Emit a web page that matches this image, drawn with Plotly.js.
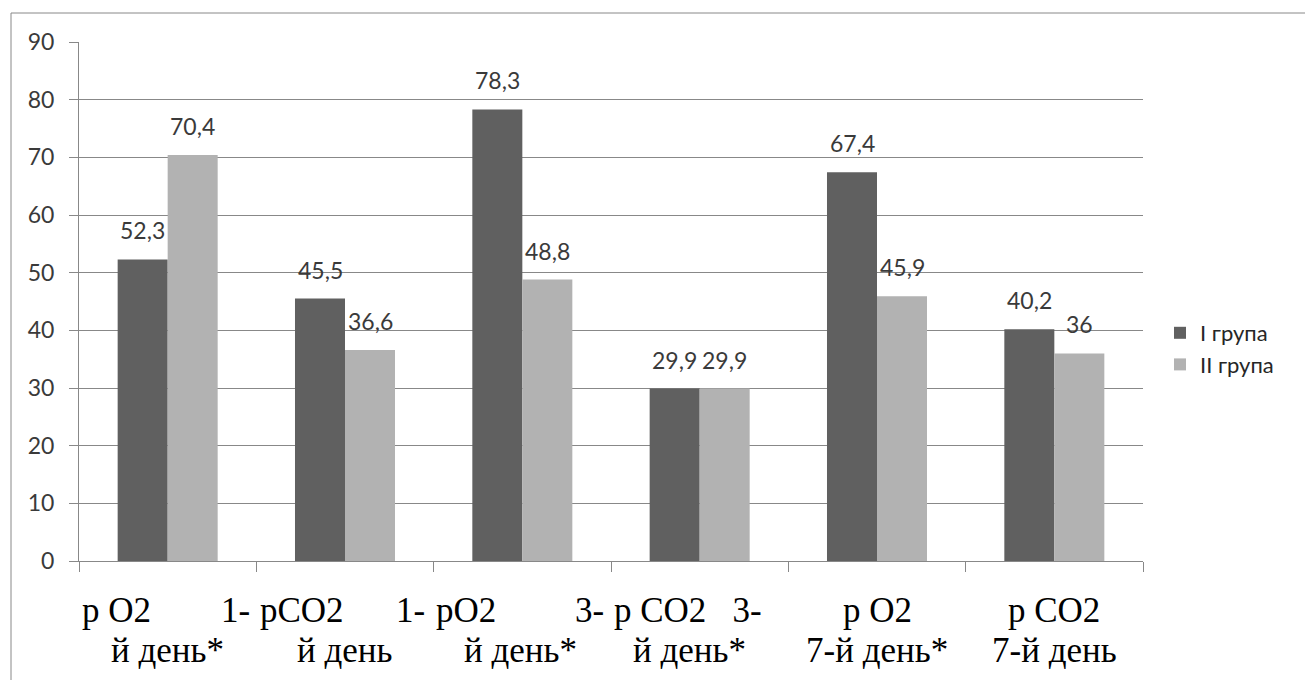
<!DOCTYPE html>
<html>
<head>
<meta charset="utf-8">
<script src="https://cdn.plot.ly/plotly-3.0.1.min.js"></script>
<style>
html, body { margin: 0; padding: 0; background: #ffffff; overflow: hidden; }
#chart { width: 1305px; height: 680px; }
</style>
</head>
<body>
<div id="chart"></div>
<script>
// ---- data ----
const categories = ["р О2 1-й день*", "рСО2 1-й день", "рО2 3-й день*", "р СО2 3-й день*", "р О2 7-й день*", "р СО2 7-й день"];
const groupI = [52.3, 45.5, 78.3, 29.9, 67.4, 40.2];
const groupII = [70.4, 36.6, 48.8, 29.9, 45.9, 36];
const seriesNames = ["I група", "II група"];
const labelLine1Start = ["р О2", "рСО2", "рО2", "р СО2", "р О2", "р СО2"];
const labelLine1End = ["1-", "1-", "3-", "3-", "", ""];
const labelLine2 = ["й день*", "й день", "й день*", "й день*", "7-й день*", "7-й день"];
const yTicks = [0, 10, 20, 30, 40, 50, 60, 70, 80, 90];

// ---- style / layout helpers ----
const NB = "\u00A0";
const gapCounts = [8, 6, 9, 3, 0, 0];
const labelShift = [-2, -3, -2, -12, 0, 0];
const line2Shift = [0, 0, -2, -10, 0, 0];
const bargap = 0.436;
const halfOffset = (1 - bargap) / 4;
const fmt = v => String(v).replace(".", ",");
const numFont = { family: "Lato, 'Open Sans', sans-serif", size: 23, color: "#3a3a3a" };
const catFont = { family: "'Liberation Serif', 'Times New Roman', serif", size: 35, color: "#000000" };

const traces = [
  { type: "bar", name: seriesNames[0], x: categories, y: groupI, marker: { color: "#606060" }, legendgroup: "g1", hoverinfo: "skip" },
  { type: "bar", name: seriesNames[1], x: categories, y: groupII, marker: { color: "#b2b2b2" }, legendgroup: "g2", hoverinfo: "skip" }
];

const annotations = [];
categories.forEach((c, i) => {
  annotations.push({ x: i - halfOffset, y: groupI[i], xref: "x", yref: "y", text: fmt(groupI[i]), showarrow: false, yanchor: "bottom", yshift: 13, font: numFont });
  annotations.push({ x: i + halfOffset, y: groupII[i], xref: "x", yref: "y", text: fmt(groupII[i]), showarrow: false, yanchor: "bottom", yshift: 13, font: numFont });
  const l1 = labelLine1End[i] ? labelLine1Start[i] + NB.repeat(gapCounts[i]) + labelLine1End[i] : labelLine1Start[i];
  annotations.push({ x: i, y: 0, xref: "x", yref: "paper", text: l1, showarrow: false, yanchor: "middle", yshift: -49, xshift: labelShift[i], font: catFont });
  annotations.push({ x: i, y: 0, xref: "x", yref: "paper", text: labelLine2[i], showarrow: false, yanchor: "middle", yshift: -89, xshift: line2Shift[i], font: catFont });
});

const L = 79, R = 1143, T = 42, B = 561;
const pw = R - L, ph = B - T;
const layout = {
  width: 1305, height: 680,
  margin: { l: L, r: 1305 - R, t: T, b: 680 - B, pad: 0 },
  paper_bgcolor: "#ffffff", plot_bgcolor: "#ffffff",
  barmode: "group", bargap: bargap, bargroupgap: 0,
  showlegend: true,
  legend: {
    x: (1160 - L) / pw, xanchor: "left", y: (B - 349) / ph, yanchor: "middle",
    font: { family: "Lato, 'Open Sans', sans-serif", size: 22, color: "#262626" },
    tracegroupgap: 16, traceorder: "normal", bgcolor: "rgba(0,0,0,0)"
  },
  xaxis: {
    type: "category", showticklabels: false, tickson: "boundaries",
    ticks: "outside", ticklen: 10, tickcolor: "#888888", tickwidth: 1,
    showline: true, linecolor: "#888888", linewidth: 1, showgrid: false, zeroline: false,
    fixedrange: true
  },
  yaxis: {
    range: [0, 90], tickvals: yTicks, ticktext: yTicks.map(String),
    ticks: "outside", ticklen: 9, tickcolor: "#888888", tickwidth: 1,
    ticklabelstandoff: 10,
    showline: true, linecolor: "#888888", linewidth: 1,
    showgrid: true, gridcolor: "#888888", gridwidth: 1, zeroline: false,
    tickfont: numFont, fixedrange: true
  },
  annotations: annotations,
  shapes: [{
    type: "rect", xref: "paper", yref: "paper",
    x0: (11 - L) / pw, x1: (1320 - L) / pw, y0: (B - 700) / ph, y1: (B - 13) / ph,
    line: { color: "#888888", width: 1 }, fillcolor: "rgba(0,0,0,0)", layer: "below"
  }]
};

Plotly.newPlot("chart", traces, layout, { displayModeBar: false, staticPlot: true });
</script>
</body>
</html>
